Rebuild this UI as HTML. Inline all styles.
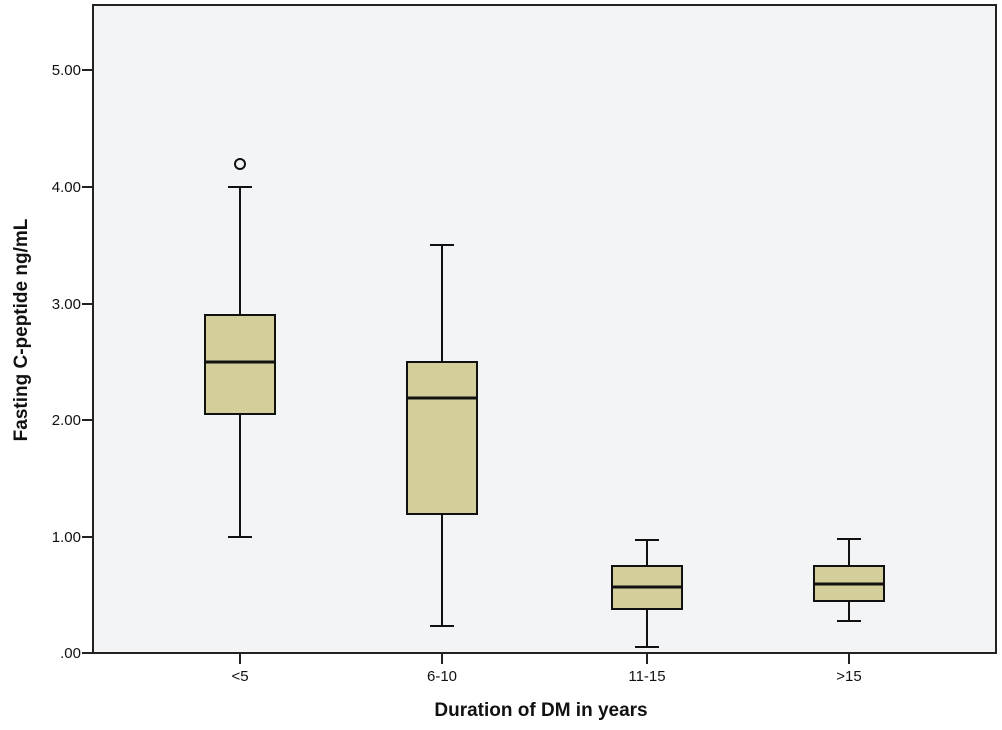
<!DOCTYPE html>
<html><head><meta charset="utf-8"><style>body{margin:0;background:#fff}svg{display:block}</style></head><body>
<svg width="1002" height="730" xmlns="http://www.w3.org/2000/svg" font-family="Liberation Sans, sans-serif">
<rect x="93" y="5" width="903" height="648" fill="#f3f4f6" stroke="#222" stroke-width="2"/>
<g stroke="#222" stroke-width="2">
<line x1="82" y1="70" x2="93" y2="70"/><line x1="82" y1="187" x2="93" y2="187"/><line x1="82" y1="304" x2="93" y2="304"/><line x1="82" y1="420" x2="93" y2="420"/><line x1="82" y1="537" x2="93" y2="537"/><line x1="82" y1="653" x2="93" y2="653"/>
<line x1="240" y1="653" x2="240" y2="664"/><line x1="442" y1="653" x2="442" y2="664"/><line x1="647" y1="653" x2="647" y2="664"/><line x1="849" y1="653" x2="849" y2="664"/>
</g>
<g font-size="15" text-anchor="end" fill="#111">
<text x="81" y="75">5.00</text><text x="81" y="192">4.00</text><text x="81" y="309">3.00</text><text x="81" y="425">2.00</text><text x="81" y="542">1.00</text><text x="81" y="658">.00</text>
</g>
<g font-size="15" text-anchor="middle" fill="#111">
<text x="240" y="681">&lt;5</text><text x="442" y="681">6-10</text><text x="647" y="681">11-15</text><text x="849" y="681">&gt;15</text>
</g>
<text x="541" y="716" font-size="19" font-weight="bold" text-anchor="middle" fill="#111">Duration of DM in years</text>
<text transform="translate(27,330) rotate(-90)" font-size="19" font-weight="bold" text-anchor="middle" fill="#111">Fasting C-peptide ng/mL</text>
<g stroke="#111" stroke-width="2" fill="#d4cf9a">
<line x1="240" y1="187" x2="240" y2="537"/><line x1="228" y1="187" x2="252" y2="187"/><line x1="228" y1="537" x2="252" y2="537"/>
<rect x="205" y="315" width="70" height="99"/><line x1="205" y1="362" x2="275" y2="362" stroke-width="3"/>
<circle cx="240" cy="164" r="5" fill="none"/>
<line x1="442" y1="245" x2="442" y2="626"/><line x1="430" y1="245" x2="454" y2="245"/><line x1="430" y1="626" x2="454" y2="626"/>
<rect x="407" y="362" width="70" height="152"/><line x1="407" y1="398" x2="477" y2="398" stroke-width="3"/>
<line x1="647" y1="540" x2="647" y2="647"/><line x1="635" y1="540" x2="659" y2="540"/><line x1="635" y1="647" x2="659" y2="647"/>
<rect x="612" y="566" width="70" height="43"/><line x1="612" y1="587" x2="682" y2="587" stroke-width="3"/>
<line x1="849" y1="539" x2="849" y2="621"/><line x1="837" y1="539" x2="861" y2="539"/><line x1="837" y1="621" x2="861" y2="621"/>
<rect x="814" y="566" width="70" height="35"/><line x1="814" y1="584" x2="884" y2="584" stroke-width="3"/>
</g>
</svg>
</body></html>
